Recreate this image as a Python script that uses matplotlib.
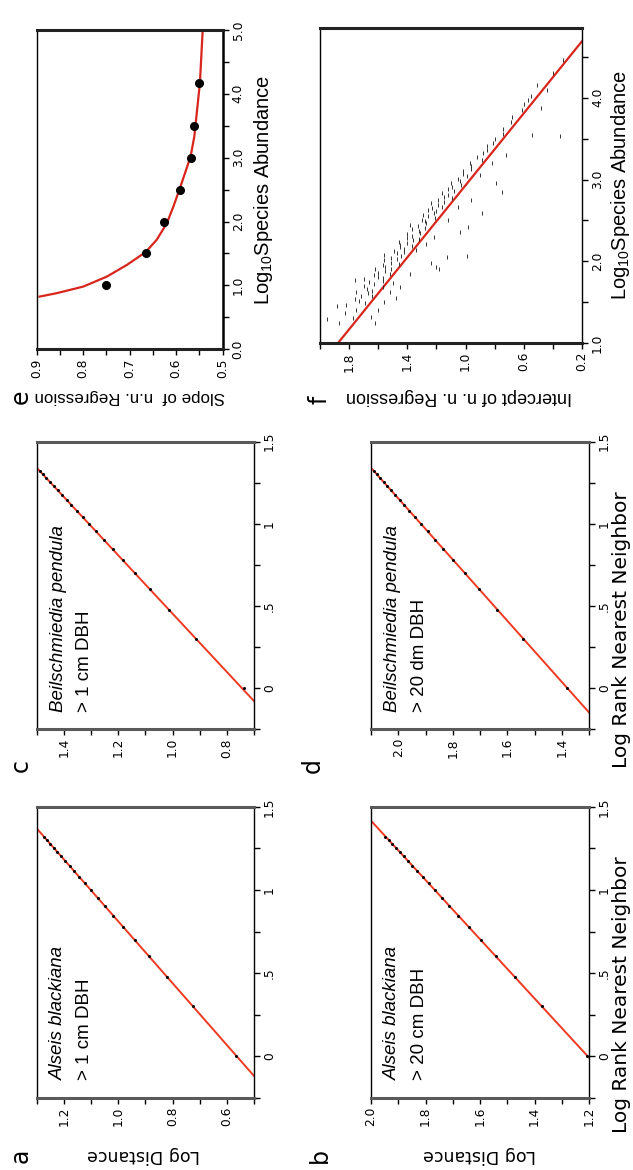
import matplotlib
matplotlib.use("Agg")
import matplotlib.pyplot as plt
from matplotlib.ticker import FixedLocator, FixedFormatter

# ---------------- data ----------------
# log10 rank of nearest neighbour (ranks 1..21)
log_rank = [0.0, 0.301, 0.477, 0.602, 0.699, 0.778, 0.845, 0.903, 0.954, 1.000,
            1.041, 1.079, 1.114, 1.146, 1.176, 1.204, 1.230, 1.255, 1.279, 1.301, 1.322]

# log distance to the n-th neighbour
dist_a = [0.566, 0.726, 0.821, 0.887, 0.938, 0.983, 1.018, 1.049, 1.076, 1.101,
          1.123, 1.143, 1.162, 1.179, 1.196, 1.211, 1.225, 1.238, 1.251, 1.263, 1.274]
dist_b = [1.207, 1.374, 1.473, 1.543, 1.597, 1.641, 1.679, 1.712, 1.740, 1.766,
          1.789, 1.810, 1.830, 1.848, 1.865, 1.880, 1.895, 1.909, 1.923, 1.935, 1.947]
dist_c = [0.738, 0.914, 1.014, 1.084, 1.139, 1.183, 1.221, 1.253, 1.282, 1.308,
          1.331, 1.352, 1.372, 1.390, 1.407, 1.423, 1.437, 1.452, 1.465, 1.477, 1.489]
dist_d = [1.382, 1.542, 1.636, 1.703, 1.755, 1.798, 1.834, 1.865, 1.892, 1.917,
          1.939, 1.959, 1.978, 1.995, 2.012, 2.027, 2.041, 2.054, 2.067, 2.079, 2.090]

# regression fits: (intercept, slope)
fit_a = (0.564, 0.537)
fit_b = (1.205, 0.561)
fit_c = (0.745, 0.563)
fit_d = (1.380, 0.537)

species = ["Alseis blackiana", "Alseis blackiana",
           "Beilschmiedia pendula", "Beilschmiedia pendula"]
size_class = ["> 1 cm DBH", "> 20 cm DBH", "> 1 cm DBH", "> 20 dm DBH"]

# panel e: slope of n.n. regression vs log10 species abundance
e_abund = [1.0, 1.5, 2.0, 2.5, 3.0, 3.5, 4.17]
e_slope = [0.751, 0.666, 0.626, 0.592, 0.568, 0.562, 0.550]
e_curve_abund = [0.824, 0.878, 0.981, 1.138, 1.321, 1.520, 1.713, 1.975, 2.235,
                 2.523, 2.759, 3.019, 3.332, 3.751, 4.169, 5.0]
e_curve_slope = [0.894, 0.857, 0.800, 0.749, 0.706, 0.666, 0.642, 0.620, 0.606,
                 0.592, 0.581, 0.569, 0.561, 0.555, 0.549, 0.543]

# panel f: intercept of n.n. regression vs log10 species abundance
f_abund = [1.24, 1.31, 1.37, 1.41, 1.46, 1.49, 1.52, 1.54, 1.57, 1.58, 1.61, 1.63,
           1.64, 1.66, 1.69, 1.70, 1.72, 1.75, 1.76, 1.78, 1.80, 1.81, 1.83, 1.85,
           1.86, 1.88, 1.90, 1.91, 1.93, 1.95, 1.97, 1.98, 2.01, 2.03, 2.04, 2.06,
           2.08, 2.10, 2.11, 2.13, 2.15, 2.17, 2.19, 2.20, 2.22, 2.24, 2.26, 2.27,
           2.29, 2.31, 2.33, 2.35, 2.37, 2.39, 2.41, 2.43, 2.45, 2.47, 2.49, 2.51,
           2.53, 2.55, 2.57, 2.59, 2.61, 2.63, 2.65, 2.67, 2.69, 2.71, 2.73, 2.75,
           2.77, 2.79, 2.81, 2.84, 2.86, 2.88, 2.91, 2.93, 2.96, 2.98, 3.01, 3.04,
           3.07, 3.10, 3.13, 3.17, 3.20, 3.24, 3.28, 3.32, 3.36, 3.41, 3.45, 3.50,
           3.56, 3.62, 3.70, 3.77, 3.85, 3.93, 4.02, 4.16, 4.30, 4.46,
           1.25, 1.32, 1.40, 1.50, 1.55, 1.62, 1.68, 1.73, 1.85, 1.90, 1.93, 1.98,
           2.05, 2.06, 2.14, 2.21, 2.30, 2.36, 2.42, 2.50, 2.59, 2.66, 2.75, 2.85,
           2.96, 3.05, 3.20, 3.30, 3.53, 3.55, 3.87, 3.97, 4.10, 1.45, 1.77, 1.30]
f_intercept = [1.87, 1.77, 1.83, 1.75, 1.82, 1.69, 1.73, 1.76, 1.64, 1.72, 1.67, 1.75,
               1.64, 1.68, 1.57, 1.70, 1.63, 1.66, 1.57, 1.70, 1.57, 1.60, 1.63, 1.52,
               1.60, 1.55, 1.62, 1.51, 1.55, 1.57, 1.46, 1.51, 1.56, 1.47, 1.51, 1.44,
               1.56, 1.47, 1.42, 1.49, 1.42, 1.45, 1.37, 1.45, 1.40, 1.46, 1.36, 1.32,
               1.40, 1.37, 1.40, 1.31, 1.32, 1.37, 1.28, 1.33, 1.38, 1.27, 1.28, 1.30,
               1.21, 1.26, 1.29, 1.22, 1.20, 1.26, 1.23, 1.16, 1.19, 1.24, 1.15, 1.19,
               1.09, 1.15, 1.12, 1.16, 1.08, 1.12, 1.09, 1.03, 1.10, 1.04, 1.05, 0.99,
               1.02, 1.02, 0.96, 0.96, 0.97, 0.89, 0.92, 0.88, 0.85, 0.85, 0.81, 0.80,
               0.74, 0.74, 0.69, 0.68, 0.61, 0.60, 0.55, 0.51, 0.40, 0.33,
               1.62, 1.65, 1.60, 1.56, 1.48, 1.52, 1.45, 1.50, 1.38, 1.18, 1.20, 1.24,
               1.13, 0.99, 1.34, 1.27, 1.22, 1.04, 0.98, 1.12, 0.89, 1.05, 0.96, 0.75,
               0.79, 0.90, 0.82, 0.72, 0.35, 0.54, 0.48, 0.57, 0.44, 1.88, 1.76, 1.95]
f_fit = (2.33, -0.454)

# tick labels
rank_ticks = [0.0, 0.5, 1.0, 1.5]
rank_ticklabels = ["0", ".5", "1", "1.5"]
rank_minor = [-0.25, 0.25, 0.75, 1.25]

# ---------------- style ----------------
RED = "#ee3a22"
RED_E = "#d8261c"
TICK_FAMILY = ["DejaVu Sans"]
TICK_SIZE = 8.8

fig = plt.figure(figsize=(6.33, 11.70), dpi=100)


def style_axes(ax, thick_color="#5a5a5a"):
    for side in ("top", "bottom"):
        ax.spines[side].set_linewidth(2.2)
        ax.spines[side].set_color(thick_color)
    for side in ("left", "right"):
        ax.spines[side].set_linewidth(1.0)
        ax.spines[side].set_color("black")
    ax.tick_params(axis="x", which="both", direction="out", length=4.5, width=1.0,
                   top=False, bottom=True, labelrotation=90, pad=2)
    ax.tick_params(axis="y", which="both", direction="out", length=4.5, width=1.0,
                   left=False, right=True, labelleft=False, labelright=True,
                   labelrotation=90, pad=2)
    for lbl in ax.get_xticklabels() + ax.get_yticklabels():
        lbl.set_fontfamily(TICK_FAMILY)
        lbl.set_fontsize(TICK_SIZE)
    for lbl in ax.get_yticklabels():
        lbl.set_va("center")


def set_ticks(ax, xmaj, xlab, xmin, ymaj, ylab, ymin):
    ax.xaxis.set_major_locator(FixedLocator(xmaj))
    ax.xaxis.set_major_formatter(FixedFormatter(xlab))
    ax.xaxis.set_minor_locator(FixedLocator(xmin))
    ax.yaxis.set_major_locator(FixedLocator(ymaj))
    ax.yaxis.set_major_formatter(FixedFormatter(ylab))
    ax.yaxis.set_minor_locator(FixedLocator(ymin))


# axes rectangles [left, bottom, width, height]
rects = {
    "a": [0.058, 0.0618, 0.3433, 0.2485],
    "b": [0.5861, 0.0618, 0.3444, 0.2485],
    "c": [0.058, 0.3769, 0.3433, 0.2456],
    "d": [0.5861, 0.3769, 0.3444, 0.2456],
    "e": [0.058, 0.7015, 0.2938, 0.2729],
    "f": [0.5055, 0.7068, 0.4139, 0.2690],
}

rank_panels = [
    ("a", dist_a, fit_a, (0.5, 1.3), [1.2, 1.0, 0.8, 0.6], ["1.2", "1.0", "0.8", "0.6"],
     [1.3, 1.1, 0.9, 0.7, 0.5]),
    ("b", dist_b, fit_b, (1.2, 2.0), [2.0, 1.8, 1.6, 1.4, 1.2], ["2.0", "1.8", "1.6", "1.4", "1.2"],
     [1.9, 1.7, 1.5, 1.3]),
    ("c", dist_c, fit_c, (0.7, 1.5), [1.4, 1.2, 1.0, 0.8], ["1.4", "1.2", "1.0", "0.8"],
     [1.5, 1.3, 1.1, 0.9, 0.7]),
    ("d", dist_d, fit_d, (1.3, 2.1), [2.0, 1.8, 1.6, 1.4], ["2.0", "1.8", "1.6", "1.4"],
     [2.1, 1.9, 1.7, 1.5, 1.3]),
]

for i, (key, dist, fit, dlim, dmaj, dlab, dmin) in enumerate(rank_panels):
    ax = fig.add_axes(rects[key])
    x_line = [-0.4, 1.7]
    y_line = [fit[0] + fit[1] * v for v in x_line]
    ax.plot(y_line, x_line, color=RED, lw=1.4, zorder=2)
    ax.plot(dist, log_rank, "o", color="black", ms=2.2, mew=0, zorder=3)
    ax.set_xlim(dlim[1], dlim[0])
    ax.set_ylim(-0.25, 1.5)
    set_ticks(ax, dmaj, dlab, dmin, rank_ticks, rank_ticklabels, rank_minor)
    style_axes(ax)
    ax.text(0.098, 0.06, species[i], transform=ax.transAxes, rotation=90,
            rotation_mode="anchor", ha="left", va="center", style="italic",
            family=["Liberation Sans", "DejaVu Sans"], fontsize=13.5)
    ax.text(0.222, 0.06, size_class[i], transform=ax.transAxes, rotation=90,
            rotation_mode="anchor", ha="left", va="center",
            family=["Liberation Sans", "DejaVu Sans"], fontsize=13.5)

# panel e
ax_e = fig.add_axes(rects["e"])
ax_e.plot(e_curve_slope, e_curve_abund, color=RED_E, lw=1.6, zorder=2)
ax_e.plot(e_slope, e_abund, "o", color="black", ms=5.5, zorder=3)
ax_e.set_xlim(0.9, 0.5)
ax_e.set_ylim(0.0, 5.0)
set_ticks(ax_e, [0.9, 0.8, 0.7, 0.6, 0.5], ["0.9", "0.8", "0.7", "0.6", "0.5"],
          [0.85, 0.75, 0.65, 0.55],
          [0.0, 1.0, 2.0, 3.0, 4.0, 5.0], ["0.0", "1.0", "2.0", "3.0", "4.0", "5.0"],
          [0.5, 1.5, 2.5, 3.5, 4.5])
style_axes(ax_e, thick_color="#222222")
ax_e.spines["right"].set_linewidth(1.8)

# panel f
ax_f = fig.add_axes(rects["f"])
x_fit = [0.9, 5.0]
ax_f.plot([f_fit[0] + f_fit[1] * v for v in x_fit], x_fit, color=RED_E, lw=1.6, zorder=2)
ax_f.plot(f_intercept, f_abund, "|", color="#333333", ms=3.2, mew=0.7, zorder=3)
ax_f.set_xlim(2.0, 0.2)
ax_f.set_ylim(1.0, 4.85)
set_ticks(ax_f, [1.8, 1.4, 1.0, 0.6, 0.2], ["1.8", "1.4", "1.0", "0.6", "0.2"],
          [2.0, 1.6, 1.2, 0.8, 0.4],
          [1.0, 2.0, 3.0, 4.0], ["1.0", "2.0", "3.0", "4.0"],
          [1.5, 2.5, 3.5, 4.5])
style_axes(ax_f, thick_color="#222222")

# axis titles
lab_font = ["DejaVu Sans"]
for xc in (0.226, 0.758):
    fig.text(xc, 0.0125, "Log Distance", rotation=180, ha="center", va="center",
             family=lab_font, fontsize=12.5)
for yc in (0.1496, 0.4615):
    fig.text(0.982, yc, "Log Rank Nearest Neighbor", rotation=90, ha="center",
             va="center", family=lab_font, fontsize=14.5)

fig.text(0.2055, 0.661, "Slope of  n.n. Regression", rotation=180, ha="center",
         va="center", family=["Liberation Sans", "DejaVu Sans"], fontsize=12.2)
fig.text(0.7245, 0.661, "Intercept of n. n. Regression", rotation=180, ha="center",
         va="center", family=["Liberation Sans", "DejaVu Sans"], fontsize=13)
plt.rcParams["mathtext.default"] = "regular"
for xc, yc in ((0.4163, 0.8376), (0.98, 0.842)):
    fig.text(xc, yc, "Log$_{10}$Species Abundance", rotation=90, ha="center",
             va="center", family=["Liberation Sans", "DejaVu Sans"], fontsize=14.5)

# panel letters
letters = {"a": (0.032, 0.0125), "b": (0.5055, 0.0125), "c": (0.032, 0.346),
           "d": (0.4945, 0.346), "e": (0.032, 0.6607), "f": (0.5055, 0.658)}
for k, (xl, yl) in letters.items():
    fig.text(xl, yl, k, rotation=90, ha="center", va="center",
             family=["DejaVu Sans"], fontsize=17)

fig.savefig("out.png", dpi=100, facecolor="white")
